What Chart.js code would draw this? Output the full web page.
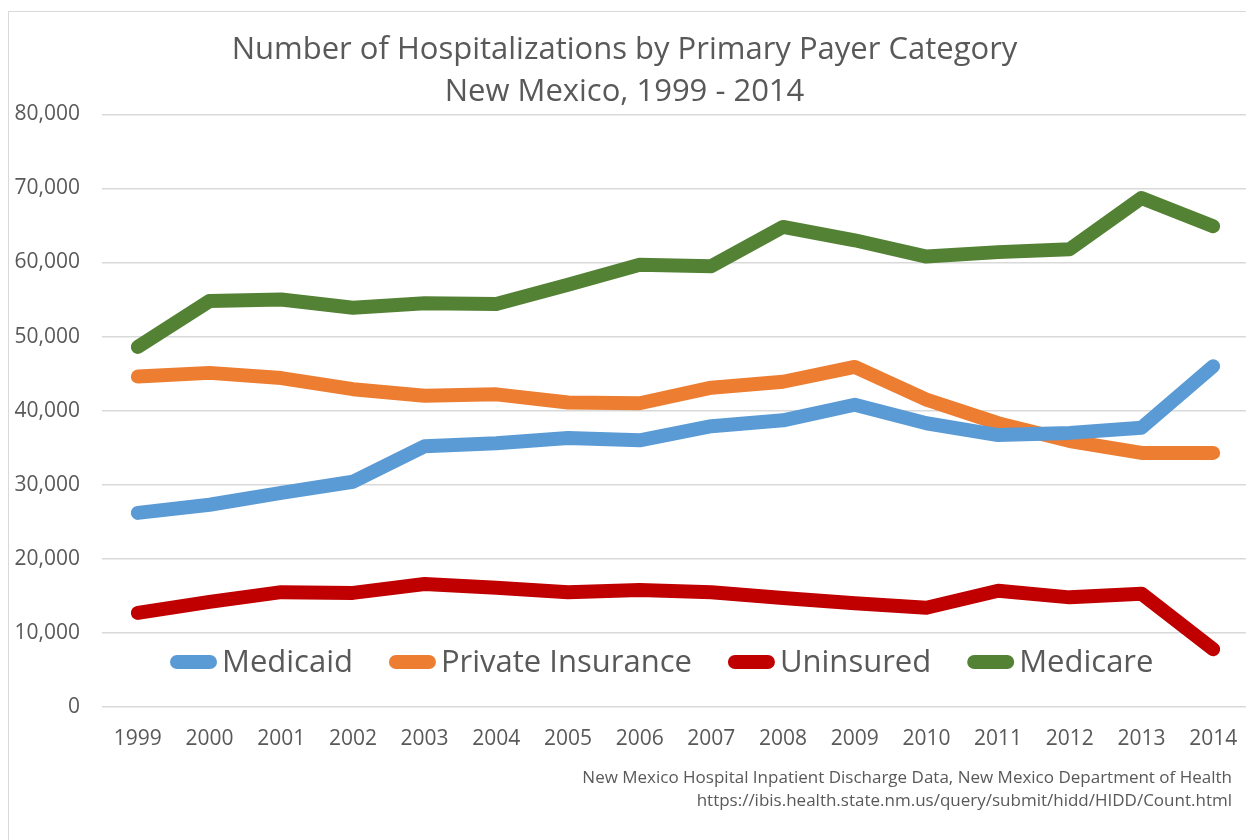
<!doctype html>
<html lang="en">
<head>
  <meta charset="UTF-8">
  <title>Hospitalizations by Payer</title>
  <script src="https://cdn.jsdelivr.net/npm/chart.js"></script>
  <style>
    html, body {
      margin: 0;
      padding: 0;
      background: #fff;
      overflow: hidden;
      width: 1246px;
      height: 840px;
    }

    #frame {
      position: absolute;
      left: 8px;
      top: 11px;
      width: 1300px;
      height: 900px;
      border: 1px solid #d9d9d9;
    }

    #wrap {
      position: absolute;
      left: 0;
      top: 0;
      width: 1270px;
      height: 840px;
    }

    #source {
      position: absolute;
      right: 14px;
      top: 765px;
      text-align: right;
      font: 17px 'Open Sans', sans-serif;
      line-height: 23px;
      color: #595959;
    }
  </style>
</head>
<body>
  <div id="frame"></div>
  <div id="wrap"><canvas id="chart_01"></canvas></div>
  <div id="source">
    New Mexico Hospital Inpatient Discharge Data, New Mexico Department of Health<br>
    https://ibis.health.state.nm.us/query/submit/hidd/HIDD/Count.html
  </div>
  <script type="application/javascript">
    const years = ['1999', '2000', '2001', '2002', '2003', '2004', '2005', '2006',
                   '2007', '2008', '2009', '2010', '2011', '2012', '2013', '2014']

    const medicaid = [26200, 27300, 28900, 30400, 35200, 35600, 36300, 36000,
                      37900, 38700, 40800, 38300, 36700, 37000, 37700, 46000]
    const private_ins = [44600, 45100, 44400, 42900, 42000, 42200, 41100, 41000,
                         43100, 43900, 45900, 41500, 38300, 35900, 34300, 34300]
    const uninsured = [12700, 14200, 15500, 15400, 16600, 16100, 15500, 15800,
                       15500, 14700, 14000, 13400, 15700, 14800, 15300, 7800]
    const medicare = [48600, 54800, 55000, 53900, 54500, 54400, 57000, 59700,
                      59500, 64800, 63000, 60800, 61400, 61800, 68700, 64900]

    const series_names = ['Medicaid', 'Private Insurance', 'Uninsured', 'Medicare']
    const series_colors = ['#5b9bd5', '#ed7d31', '#c00000', '#548235']

    const y_ticks = [0, 10000, 20000, 30000, 40000, 50000, 60000, 70000, 80000]

    const txt_color = '#595959'
    const sans = "'Open Sans', sans-serif"

    const make_ds = (label, data, color) => ({
      label,
      data,
      borderColor: color,
      backgroundColor: color,
      borderWidth: 14,
      borderCapStyle: 'round',
      borderJoinStyle: 'round',
      pointRadius: 0,
      tension: 0,
      fill: false
    })

    // legend drawn inside the plot area, like the excel one
    const inner_legend = {
      id: 'inner_legend',
      afterDraw(chart) {
        const {ctx, chartArea} = chart
        const y = chartArea.bottom - 45
        let x = chartArea.left + 68
        ctx.save()
        ctx.font = `31px ${sans}`
        ctx.textBaseline = 'middle'
        ctx.lineCap = 'round'
        ctx.lineWidth = 14
        series_names.forEach((name, i) => {
          ctx.strokeStyle = series_colors[i]
          ctx.beginPath()
          ctx.moveTo(x + 7, y)
          ctx.lineTo(x + 40, y)
          ctx.stroke()
          ctx.fillStyle = txt_color
          ctx.fillText(name, x + 52, y + 1)
          x += 52 + ctx.measureText(name).width + 36
        })
        ctx.restore()
      }
    }

    const config = {
      type: 'line',
      data: {
        labels: years,
        datasets: [
          make_ds(series_names[0], medicaid, series_colors[0]),
          make_ds(series_names[1], private_ins, series_colors[1]),
          make_ds(series_names[2], uninsured, series_colors[2]),
          make_ds(series_names[3], medicare, series_colors[3])
        ]
      },
      options: {
        responsive: true,
        maintainAspectRatio: false,
        animation: false,
        layout: {
          padding: {left: 0, right: 21, top: 0, bottom: 0}
        },
        plugins: {
          legend: {display: false},
          tooltip: {enabled: false},
          title: {
            display: true,
            text: ['Number of Hospitalizations by Primary Payer Category', 'New Mexico, 1999 - 2014'],
            color: txt_color,
            font: {family: sans, size: 31, weight: 'normal', lineHeight: 1.36},
            padding: {top: 29, bottom: 1}
          }
        },
        scales: {
          x: {
            offset: true,
            grid: {display: false, drawTicks: false},
            border: {display: false},
            ticks: {
              color: txt_color,
              font: {family: sans, size: 21},
              padding: 19,
              maxRotation: 0,
              autoSkip: false
            },
            afterFit(scale) {
              scale.height = 133
            }
          },
          y: {
            min: 0,
            max: 80000,
            afterBuildTicks(scale) {
              scale.ticks = y_ticks.map(v => ({value: v}))
            },
            grid: {color: '#d9d9d9', lineWidth: 1.5, drawTicks: false},
            border: {display: false},
            ticks: {
              color: txt_color,
              font: {family: sans, size: 21},
              padding: 22,
              callback: v => v.toLocaleString('en-US')
            },
            afterFit(scale) {
              scale.width = 102
            }
          }
        }
      },
      plugins: [inner_legend]
    }

    const myChart = new Chart(
      document.getElementById('chart_01'),
      config
    )
  </script>
</body>
</html>
